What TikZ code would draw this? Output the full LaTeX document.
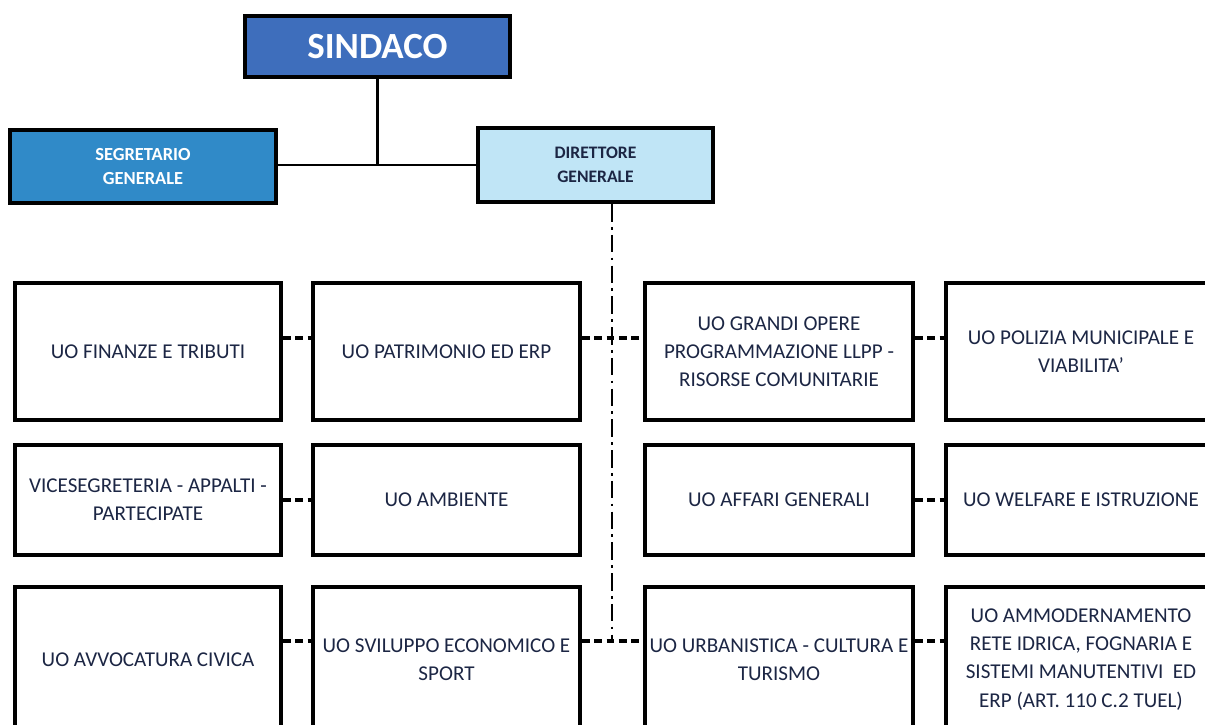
\documentclass[tikz,border=0pt]{standalone}
\usepackage{fontspec}
\setmainfont{Carlito}
\usetikzlibrary{positioning, calc}
\definecolor{mydarkblue}{RGB}{62,110,188}
\definecolor{mymidblue}{RGB}{48,138,200}
\definecolor{mylightblue}{RGB}{192,229,246}
\definecolor{mytext}{RGB}{28,38,68}
\tikzset{
  unit/.style={draw, line width=2.2pt, fill=white, text=mytext, align=center,
    font=\fontsize{12}{16}\selectfont, inner sep=2pt, minimum width=5.32cm},
  headbox/.style={draw, line width=2.6pt, fill=mydarkblue, text=white,
    font=\fontsize{21}{24}\selectfont\bfseries, minimum width=5.3cm, minimum height=1.22cm},
  segbox/.style={draw, line width=2.4pt, fill=mymidblue, text=white, align=center,
    font=\fontsize{10.5}{14}\selectfont\bfseries, minimum width=5.32cm, minimum height=1.46cm},
  dirbox/.style={draw, line width=2.4pt, fill=mylightblue, text=mytext, align=center,
    font=\fontsize{10}{14}\selectfont\bfseries, minimum width=4.7cm, minimum height=1.48cm},
  link/.style={line width=1.7pt},
  dashlink/.style={line width=1.8pt, dash pattern=on 4.5pt off 2.5pt},
  trunk/.style={line width=1pt, dash pattern=on 10pt off 3pt on 1.5pt off 3pt}
}
\begin{document}
\begin{tikzpicture}
\useasboundingbox (0,0) rectangle (24.1,-14.5);
%vertici
\node [headbox] (sindaco) at (7.55,-0.93) {SINDACO};
\node [segbox] (segretario) at (2.86,-3.33) {SEGRETARIO\\GENERALE};
\node [dirbox] (direttore) at (11.91,-3.30) {DIRETTORE\\GENERALE};
\draw [link] (sindaco.south) -- (sindaco.south |- direttore.west);
\draw [link] (segretario.east |- direttore.west) -- (direttore.west);

%prima riga
\node [unit, minimum height=2.74cm] (finanze) at (2.96,-7.03) {UO FINANZE E TRIBUTI};
\node [unit, minimum height=2.74cm, minimum width=5.34cm] (patrimonio) at (8.93,-7.03) {UO PATRIMONIO ED ERP};
\node [unit, minimum height=2.74cm, minimum width=5.36cm] (opere) at (15.58,-7.03) {UO GRANDI OPERE\\PROGRAMMAZIONE LLPP -\\RISORSE COMUNITARIE};
\node [unit, minimum height=2.74cm, minimum width=5.4cm] (polizia) at (21.62,-7.03) {UO POLIZIA MUNICIPALE E\\VIABILITA'};

%seconda riga
\node [unit, minimum height=2.2cm] (vicesegreteria) at (2.96,-10.0) {VICESEGRETERIA - APPALTI -\\PARTECIPATE};
\node [unit, minimum height=2.2cm, minimum width=5.34cm] (ambiente) at (8.93,-10.0) {UO AMBIENTE};
\node [unit, minimum height=2.2cm, minimum width=5.36cm] (affari) at (15.58,-10.0) {UO AFFARI GENERALI};
\node [unit, minimum height=2.2cm, minimum width=5.4cm] (welfare) at (21.62,-10.0) {UO WELFARE E ISTRUZIONE};

%terza riga
\node [unit, minimum height=2.9cm] (avvocatura) at (2.96,-13.19) {UO AVVOCATURA CIVICA};
\node [unit, minimum height=2.9cm, minimum width=5.34cm] (sviluppo) at (8.93,-13.19) {UO SVILUPPO ECONOMICO E\\SPORT};
\node [unit, minimum height=2.9cm, minimum width=5.36cm] (urbanistica) at (15.58,-13.19) {UO URBANISTICA - CULTURA E\\TURISMO};
\node [unit, minimum height=2.9cm, minimum width=5.4cm] (ammodernamento) at (21.62,-13.19) {UO AMMODERNAMENTO\\RETE IDRICA, FOGNARIA E\\SISTEMI MANUTENTIVI\ \ ED\\ERP (ART. 110 C.2 TUEL)};

\coordinate (j1) at (12.24,-6.76);
\coordinate (j3) at (12.24,-12.82);
\draw [trunk] (direttore.south -| j1) -- (j3);

\draw [dashlink] (finanze.east |- j1) -- (patrimonio.west |- j1);
\draw [dashlink] (patrimonio.east |- j1) -- (j1) -- (opere.west |- j1);
\draw [dashlink] (opere.east |- j1) -- (polizia.west |- j1);

\draw [dashlink] (vicesegreteria.east) -- (ambiente.west);
\draw [dashlink] (affari.east) -- (welfare.west);

\draw [dashlink] (avvocatura.east |- j3) -- (sviluppo.west |- j3);
\draw [dashlink] (sviluppo.east |- j3) -- (j3) -- (urbanistica.west |- j3);
\draw [dashlink] (urbanistica.east |- j3) -- (ammodernamento.west |- j3);

\end{tikzpicture}
\end{document}
